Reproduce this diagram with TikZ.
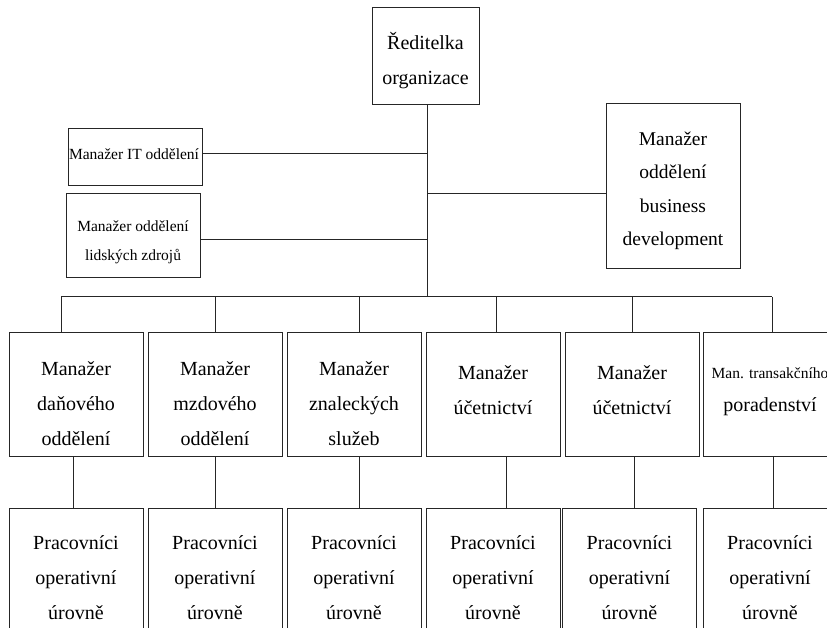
\documentclass[tikz,border=0pt]{standalone}
\usepackage{fontspec}
\setmainfont{Liberation Serif}
\begin{document}
\begin{tikzpicture}[x=1pt,y=-1pt,
  box/.style={draw=black!85, line width=1pt, rectangle, inner sep=0pt, fill=white},
  conn/.style={draw=black!85, line width=1pt},
  big/.style={font=\fontsize{20}{35}\selectfont, align=center, inner sep=0pt},
  mid/.style={font=\fontsize{19.5}{33.5}\selectfont, align=center, inner sep=0pt},
  small/.style={font=\fontsize{15.5}{29}\selectfont, align=center, inner sep=0pt}
]
\useasboundingbox (0,0) rectangle (827,628);
\clip (0,0) rectangle (827,628);

% junction points on the trunk and the bus
\coordinate (jit) at (427,154);
\coordinate (jhr) at (427,240);
\coordinate (jbd) at (427,194);
\coordinate (bus) at (427,297);
\coordinate (busL) at (61,297);
\coordinate (busR) at (772,297);

% top level
\node[box, minimum width=107, minimum height=97] (dir) at (425.5,56.5) {};
\node[big] (dirT) at (425.5,61) {Ředitelka\\organizace};

% staff managers
\node[box, minimum width=134, minimum height=57] (it) at (135,157.5) {};
\node[small] (itT) at (134,154) {Manažer IT oddělení};
\node[box, minimum width=134, minimum height=84] (hr) at (133,236) {};
\node[small] (hrT) at (133,242) {Manažer oddělení\\lidských zdrojů};
\node[box, minimum width=134, minimum height=165] (bd) at (673,186.5) {};
\node[mid] (bdT) at (673,191) {Manažer\\oddělení\\business\\development};

% department managers
\foreach \i/\x in {1/76,2/215,3/354,4/493,5/632,6/770}
  \node[box, minimum width=134, minimum height=124] (m\i) at (\x,394) {};
\node[big] (m1T) at (76,404) {Manažer\\daňového\\oddělení};
\node[big] (m2T) at (215,404) {Manažer\\mzdového\\oddělení};
\node[big] (m3T) at (354,404) {Manažer\\znaleckých\\služeb};
\node[big] (m4T) at (493,390) {Manažer\\účetnictví};
\node[big] (m5T) at (632,390) {Manažer\\účetnictví};
\node[small, anchor=base] (m6Ta) at (770,378.5) {Man. transakčního};
\node[big, anchor=base] (m6Tb) at (770,411) {poradenství};

% operational staff
\foreach \i/\x in {1/76,2/215,3/354,4/493,5/629.5,6/770} {
  \node[box, minimum width=134, minimum height=140] (b\i) at (\x,578) {};
  \node[big] (b\i T) at (\x,578) {Pracovníci\\operativní\\úrovně};
}

% trunk and side branches
\draw[conn] (dir.south -| bus) -- (bus);
\draw[conn] (it.east |- jit) -- (jit);
\draw[conn] (hr.east |- jhr) -- (jhr);
\draw[conn] (jbd) -- (bd.west |- jbd);

% bus to department managers
\draw[conn] (busL) -- (busR);
\foreach \i/\x in {1/61,2/215,3/359,4/496,5/632,6/772}
  \draw[conn] (\x,297) -- (m\i.north -| \x,0);

% managers to operational staff
\foreach \i/\x in {1/73,2/215,3/359,4/506,5/634,6/773}
  \draw[conn] (m\i.south -| \x,0) -- (b\i.north -| \x,0);
\end{tikzpicture}
\end{document}
